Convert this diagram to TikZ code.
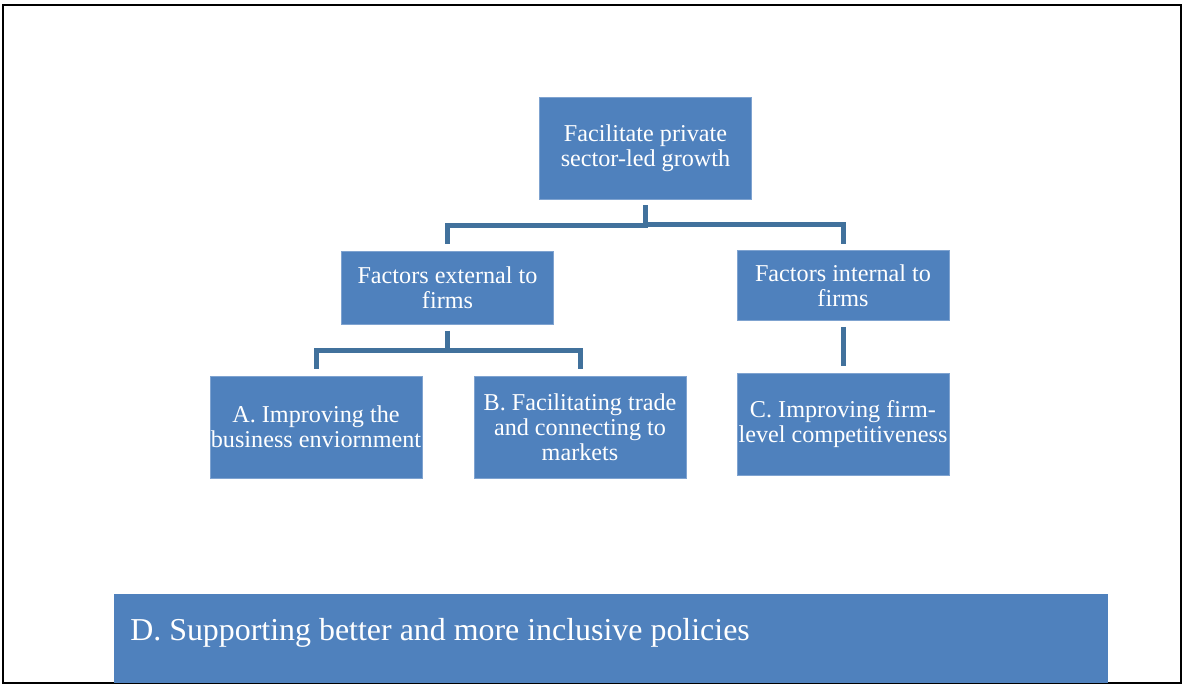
\documentclass[tikz,border=0pt]{standalone}
\usepackage{fontspec}
\setmainfont{Liberation Serif}
\usepackage{tikz}
\usetikzlibrary{positioning,calc}
\definecolor{boxfill}{HTML}{4F81BD}
\definecolor{boxedge}{HTML}{7FA3D0}
\definecolor{linkblue}{HTML}{41719C}

\tikzset{
  goalbox/.style={draw=boxedge, line width=0.4pt, fill=boxfill, text=white,
    minimum width=5.3cm, align=center, inner sep=0pt,
    font=\fontsize{17.2}{17.8}\selectfont},
  link/.style={draw=linkblue, line width=0.125cm,
    shorten <=0.15cm, shorten >=0.17cm}
}

\begin{document}
\begin{tikzpicture}
  % page frame
  \useasboundingbox (0,0) rectangle (29.575,17.1);
  \draw[line width=0.05cm] (0.075,0.03) rectangle (29.53,16.975);

  % top of the tree
  \node[goalbox, minimum height=2.55cm] (top) at (16.1375,13.4)
    {Facilitate private\\sector-led growth};

  % second level
  \node[goalbox, minimum height=1.825cm] (ext) at (11.1875,9.9)
    {Factors external to\\firms};
  \node[goalbox, minimum height=1.75cm] (int) at (21.075,9.96)
    {Factors internal to\\firms};

  % third level
  \node[goalbox, minimum height=2.55cm] (envA) at (7.9,6.425)
    {A. Improving the\\business enviornment};
  \node[goalbox, minimum height=2.55cm] (tradeB) at (14.5,6.425)
    {B. Facilitating trade\\and connecting to\\markets};
  \node[goalbox, minimum height=2.55cm] (firmC) at (21.075,6.5)
    {C. Improving firm-\\level competitiveness};

  % connectors
  \draw[link] (top.south) |- ($(top.south)!.5!(ext.north)$) -| (ext.north);
  \draw[link] (top.south) |- ($(top.south)!.5!(int.north)$) -| (int.north);
  \draw[link] (ext.south) |- ($(ext.south)!.5!(envA.north)$) -| (envA.north);
  \draw[link] (ext.south) |- ($(ext.south)!.5!(tradeB.north)$) -| (tradeB.north);
  \draw[link] (int.south) -- (firmC.north);

  % policy bar along the bottom
  \node[fill=boxfill, text=white, anchor=south west, minimum width=24.85cm,
    minimum height=2.225cm, inner sep=0pt] (policyD) at (2.85,0.03) {};
  \node[text=white, anchor=west, inner sep=0pt,
    font=\fontsize{22.7}{27}\selectfont] (policyTxt) at ([xshift=0.4cm,yshift=0.12cm]policyD.west)
    {D. Supporting better and more inclusive policies};
\end{tikzpicture}
\end{document}
